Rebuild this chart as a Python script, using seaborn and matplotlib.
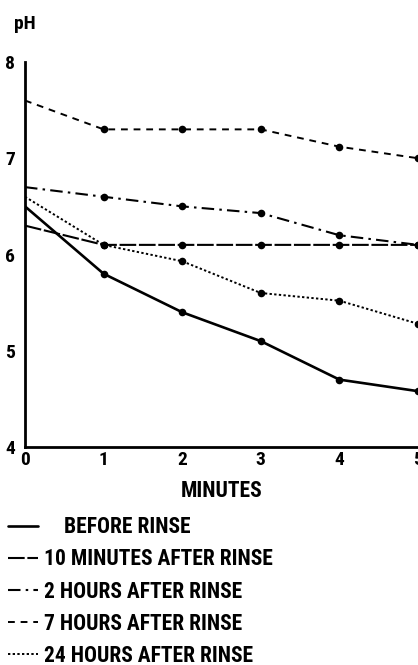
import matplotlib
matplotlib.use("Agg")
import matplotlib.pyplot as plt
import seaborn as sns
import pandas as pd

minutes = [0, 1, 2, 3, 4, 5]
before_rinse = [6.5, 5.8, 5.4, 5.1, 4.7, 4.58]
min10_after = [6.3, 6.1, 6.1, 6.1, 6.1, 6.1]
hours2_after = [6.7, 6.6, 6.5, 6.43, 6.2, 6.1]
hours7_after = [7.6, 7.3, 7.3, 7.3, 7.12, 7.0]
hours24_after = [6.6, 6.1, 5.93, 5.6, 5.52, 5.28]
series_labels = ["BEFORE RINSE", "10 MINUTES AFTER RINSE", "2 HOURS AFTER RINSE",
                 "7 HOURS AFTER RINSE", "24 HOURS AFTER RINSE"]
y_ticks = [4, 5, 6, 7, 8]
x_ticks = [0, 1, 2, 3, 4, 5]

sns.set_theme(style="white")
plt.rcParams['font.family'] = ['Liberation Sans Narrow', 'DejaVu Sans Condensed',
                               'Roboto Condensed', 'DejaVu Sans']
plt.rcParams['font.weight'] = 'bold'
plt.rcParams['text.color'] = 'black'
plt.rcParams['xtick.color'] = 'black'
plt.rcParams['ytick.color'] = 'black'
plt.rcParams['axes.labelcolor'] = 'black'

values = [before_rinse, min10_after, hours2_after, hours7_after, hours24_after]
rows = []
for lab, vals in zip(series_labels, values):
    for m, v in zip(minutes, vals):
        rows.append({"minutes": m, "pH": v, "series": lab})
df = pd.DataFrame(rows)

styles = {
    series_labels[0]: dict(ls="-", lw=1.9),
    series_labels[1]: dict(ls=(0, (8, 1.3)), lw=1.5),
    series_labels[2]: dict(ls=(0, (6, 2.5, 1.2, 2.5)), lw=1.5),
    series_labels[3]: dict(ls=(0, (3.5, 3)), lw=1.4),
    series_labels[4]: dict(ls=(0, (1.2, 1.2)), lw=1.4),
}

fig = plt.figure(figsize=(4.18, 6.65), dpi=100)
ax = fig.add_axes([25/418, 1-447/665, 1-25/418, (447-62)/665])

handles = []
for lab in series_labels:
    sub = df[df.series == lab]
    sns.lineplot(data=sub, x="minutes", y="pH", ax=ax, color="black",
                 linestyle=styles[lab]["ls"], linewidth=styles[lab]["lw"],
                 label=lab, legend=False)
    handles.append(ax.lines[-1])
    pts = sub[sub.minutes >= 1]
    sns.scatterplot(data=pts, x="minutes", y="pH", ax=ax, color="black",
                    s=30, edgecolor="black", linewidth=0, legend=False, zorder=5)

ax.set_xlim(0, 5)
ax.set_ylim(4, 8)
ax.set_xticks(x_ticks)
ax.set_yticks(y_ticks)
ax.set_xticklabels([str(t) for t in x_ticks], fontsize=14, fontweight='bold')
ax.set_yticklabels([str(t) for t in y_ticks], fontsize=14, fontweight='bold')
ax.tick_params(axis='both', direction='in', length=5, width=1.8, color='black')
ax.tick_params(axis='y', pad=7)
ax.tick_params(axis='x', pad=3)
for s in ["top", "right"]:
    ax.spines[s].set_visible(False)
for s in ["left", "bottom"]:
    ax.spines[s].set_color("black")
    ax.spines[s].set_linewidth(2.0)
ax.set_xlabel("MINUTES", fontsize=15.5, fontweight='bold', labelpad=2)
ax.set_ylabel("")
ax.xaxis.set_label_coords(197/393, -33/385)

fig.text(14/418, 1-24/665, "pH", fontsize=14, fontweight='bold', va='center', ha='left')

leg_labels = ["    " + series_labels[0]] + series_labels[1:]
leg = fig.legend(handles, leg_labels, loc="upper left", bbox_to_anchor=(0.01, 1-512/665),
                 frameon=False, fontsize=15.5, handlelength=1.35, handletextpad=0.3,
                 labelspacing=0.47, borderaxespad=0, borderpad=0.2)
for t in leg.get_texts():
    t.set_fontweight('bold')
    t.set_color('black')

fig.savefig("out.png", dpi=100)
